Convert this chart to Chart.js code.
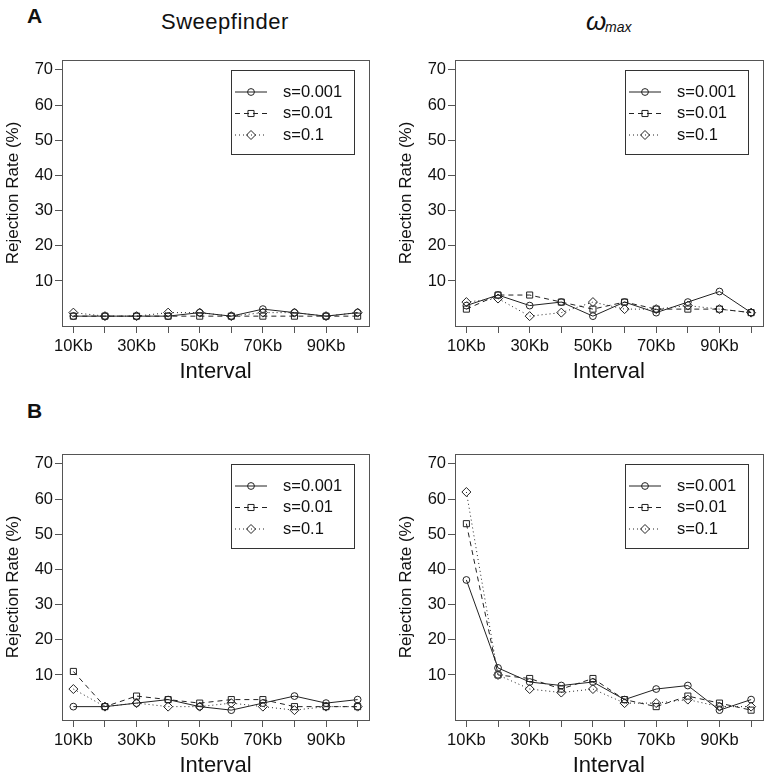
<!DOCTYPE html>
<html>
<head>
<meta charset="utf-8">
<script src="https://cdn.jsdelivr.net/npm/chart.js@4.4.0/dist/chart.umd.min.js"></script>
<style>
  html, body { margin: 0; padding: 0; background: #fff; overflow: hidden; }
  body { width: 768px; height: 778px; position: relative; font-family: "Liberation Sans", Arial, sans-serif; color: #111; }
  canvas { position: absolute; }
  .txt { position: absolute; white-space: nowrap; line-height: 1; }
</style>
</head>
<body>
<div class="txt" style="left:27px;top:5px;font-size:21px;font-weight:bold">A</div>
<div class="txt" style="left:27px;top:400px;font-size:21px;font-weight:bold">B</div>
<div class="txt" style="left:161px;top:11px;font-size:22px;letter-spacing:0.5px">Sweepfinder</div>
<div class="txt" style="left:586px;top:8px;font-size:26px;font-style:italic">ω</div>
<div class="txt" style="left:605px;top:20px;font-size:14px;font-style:italic">max</div>

<canvas id="sweepA" width="384" height="389" style="left:0;top:0"></canvas>
<canvas id="omegaA" width="384" height="389" style="left:384px;top:0"></canvas>
<canvas id="sweepB" width="384" height="389" style="left:0;top:389px"></canvas>
<canvas id="omegaB" width="384" height="389" style="left:384px;top:389px"></canvas>

<script>
// interval sizes on the x axis
const intervals = ['10Kb', '20Kb', '30Kb', '40Kb', '50Kb', '60Kb', '70Kb', '80Kb', '90Kb', '100Kb'];
const yTicks = [10, 20, 30, 40, 50, 60, 70];
const seriesNames = ['s=0.001', 's=0.01', 's=0.1'];

// A: rejection rate (%)
const sweepA_s001 = [0, 0, 0, 0, 1, 0, 2, 1, 0, 1];
const sweepA_s01 = [0, 0, 0, 0, 0, 0, 0, 0, 0, 0];
const sweepA_s1 = [1, 0, 0, 1, 1, 0, 1, 1, 0, 1];
const omegaA_s001 = [3, 6, 3, 4, 0, 4, 1, 4, 7, 1];
const omegaA_s01 = [2, 6, 6, 4, 2, 4, 2, 2, 2, 1];
const omegaA_s1 = [4, 5, 0, 1, 4, 2, 2, 3, 2, 1];

// B: rejection rate (%)
const sweepB_s001 = [1, 1, 2, 3, 1, 0, 2, 4, 2, 3];
const sweepB_s01 = [11, 1, 4, 3, 2, 3, 3, 1, 1, 1];
const sweepB_s1 = [6, 1, 2, 1, 1, 2, 1, 0, 1, 1];
const omegaB_s001 = [37, 12, 8, 7, 8, 3, 6, 7, 0, 3];
const omegaB_s01 = [53, 10, 9, 6, 9, 3, 1, 4, 2, 0];
const omegaB_s1 = [62, 10, 6, 5, 6, 2, 2, 3, 1, 1];

const FONT = '"Liberation Sans", Arial, sans-serif';
const INK = '#111';
const AXIS = '#555';

// line / marker look per series (solid-circle, dashed-square, dotted-diamond)
const looks = [
    { dash: [], style: 'circle', r: 3.4 },
    { dash: [5, 4], style: 'rect', r: 4.3 },
    { dash: [1, 3], style: 'rectRot', r: 4.5 }
];

function marker(ctx, style, r, x, y) {
    ctx.beginPath();
    if (style === 'circle') {
        ctx.arc(x, y, r, 0, Math.PI * 2);
    } else if (style === 'rect') {
        const h = r * Math.SQRT1_2;
        ctx.rect(x - h, y - h, 2 * h, 2 * h);
    } else {
        ctx.moveTo(x, y - r); ctx.lineTo(x + r, y); ctx.lineTo(x, y + r); ctx.lineTo(x - r, y); ctx.closePath();
    }
    ctx.stroke();
}

// frame round the plot region plus the boxed legend in the top right corner
const frameAndLegend = {
    id: 'frameAndLegend',
    afterDraw(chart) {
        const { ctx, chartArea: a } = chart;
        ctx.save();
        ctx.strokeStyle = AXIS;
        ctx.lineWidth = 1;
        ctx.strokeRect(Math.round(a.left) + 0.5, Math.round(a.top) + 0.5, Math.round(a.right - a.left), Math.round(a.bottom - a.top));

        const w = 123, h = 84;
        const x0 = Math.round(a.right) - 15 - w;
        const y0 = Math.round(a.top) + 10;
        ctx.strokeStyle = '#333';
        ctx.strokeRect(x0 + 0.5, y0 + 0.5, w, h);
        chart.data.datasets.forEach((ds, i) => {
            const y = y0 + 22 + i * 21.5;
            ctx.strokeStyle = ds.borderColor;
            ctx.setLineDash(ds.borderDash);
            ctx.beginPath(); ctx.moveTo(x0 + 4, y); ctx.lineTo(x0 + 36, y); ctx.stroke();
            ctx.setLineDash([]);
            marker(ctx, ds.pointStyle, ds.pointRadius, x0 + 20, y);
            ctx.fillStyle = INK;
            ctx.font = '16.5px ' + FONT;
            ctx.textBaseline = 'middle';
            ctx.fillText(ds.label, x0 + 52, y);
        });
        ctx.restore();
    }
};

function makePanel(id, series, p) {
    const datasets = series.map((vals, k) => ({
        label: seriesNames[k],
        data: vals.map((v, i) => ({ x: i + 1, y: v })),
        borderColor: '#222',
        borderWidth: 1,
        borderDash: looks[k].dash,
        pointStyle: looks[k].style,
        pointRadius: looks[k].r,
        pointBorderWidth: 1,
        pointBorderColor: '#222',
        pointBackgroundColor: 'rgba(255,255,255,0)',
        tension: 0
    }));

    return new Chart(document.getElementById(id), {
        type: 'line',
        data: { datasets },
        options: {
            responsive: false,
            animation: false,
            layout: { padding: { top: p.padTop, right: p.padRight, left: 0, bottom: 0 } },
            plugins: { legend: { display: false }, tooltip: { enabled: false } },
            scales: {
                x: {
                    type: 'linear',
                    min: 0.64,
                    max: 10.36,
                    afterBuildTicks: s => { s.ticks = intervals.map((_, i) => ({ value: i + 1 })); },
                    afterFit: s => { s.height = p.xHeight; },
                    ticks: {
                        autoSkip: false,
                        maxRotation: 0,
                        padding: 4,
                        color: INK,
                        font: { size: 16.5, family: FONT },
                        callback: (v, i) => (i % 2 === 0 ? intervals[i] : '')
                    },
                    grid: { drawOnChartArea: false, drawTicks: true, tickLength: 7, color: AXIS },
                    border: { display: false },
                    title: {
                        display: true,
                        text: 'Interval',
                        color: INK,
                        font: { size: 22, family: FONT, lineHeight: 1 },
                        padding: { top: 0, bottom: p.xTitlePad }
                    }
                },
                y: {
                    type: 'linear',
                    min: -2.8,
                    max: 72.8,
                    afterBuildTicks: s => { s.ticks = yTicks.map(v => ({ value: v })); },
                    afterFit: s => { s.width = p.yWidth; },
                    ticks: { autoSkip: false, padding: 2, color: INK, font: { size: 16.5, family: FONT } },
                    grid: { drawOnChartArea: false, drawTicks: true, tickLength: 7, color: AXIS },
                    border: { display: false },
                    title: {
                        display: true,
                        text: 'Rejection Rate (%)',
                        color: INK,
                        font: { size: 17, family: FONT },
                        padding: { top: p.yWidth - 48.5 - 10.2, bottom: 0 }
                    }
                }
            }
        },
        plugins: [frameAndLegend]
    });
}

makePanel('sweepA', [sweepA_s001, sweepA_s01, sweepA_s1], { padTop: 60, padRight: 15, yWidth: 62, xHeight: 63, xTitlePad: 6 });
makePanel('omegaA', [omegaA_s001, omegaA_s01, omegaA_s1], { padTop: 60, padRight: 5, yWidth: 71, xHeight: 63, xTitlePad: 6 });
makePanel('sweepB', [sweepB_s001, sweepB_s01, sweepB_s1], { padTop: 65, padRight: 15, yWidth: 62, xHeight: 58, xTitlePad: 1 });
makePanel('omegaB', [omegaB_s001, omegaB_s01, omegaB_s1], { padTop: 65, padRight: 5, yWidth: 71, xHeight: 58, xTitlePad: 1 });
</script>
</body>
</html>
